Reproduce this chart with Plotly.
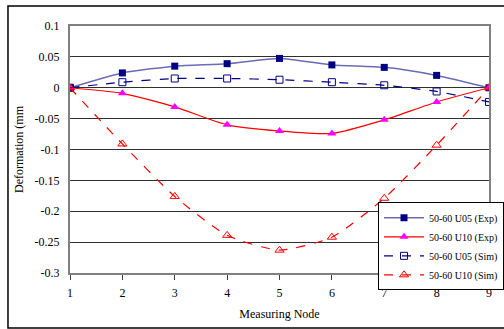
import plotly.graph_objects as go

nodes = [1, 2, 3, 4, 5, 6, 7, 8, 9]
u05_exp = [0, 0.024, 0.035, 0.039, 0.0475, 0.037, 0.033, 0.020, 0]
u10_exp = [0, -0.009, -0.031, -0.060, -0.070, -0.074, -0.052, -0.023, 0]
u05_sim = [0, 0.009, 0.015, 0.015, 0.013, 0.009, 0.004, -0.006, -0.023]
u10_sim = [0, -0.091, -0.176, -0.239, -0.263, -0.242, -0.179, -0.093, 0]
names = ["50-60 U05 (Exp)", "50-60 U10 (Exp)", "50-60 U05 (Sim)", "50-60 U10 (Sim)"]
y_ticks = [0.1, 0.05, 0, -0.05, -0.1, -0.15, -0.2, -0.25, -0.3]

FONT = "Times New Roman"

fig = go.Figure()
fig.add_trace(go.Scatter(x=nodes, y=u05_exp, name=names[0], mode="lines+markers",
                         line=dict(color="#6a6ab8", width=1.5, shape="spline", smoothing=0.6),
                         marker=dict(symbol="square", size=7, color="#000080")))
fig.add_trace(go.Scatter(x=nodes, y=u10_exp, name=names[1], mode="lines+markers",
                         line=dict(color="#ff0000", width=1.2, shape="spline", smoothing=0.6),
                         marker=dict(symbol="triangle-up", size=8, color="#ff00ff")))
fig.add_trace(go.Scatter(x=nodes, y=u05_sim, name=names[2], mode="lines+markers",
                         line=dict(color="#000080", width=1.2, dash="dash", shape="spline", smoothing=0.6),
                         marker=dict(symbol="square-open", size=7, color="#000080", line=dict(width=1))))
fig.add_trace(go.Scatter(x=nodes, y=u10_sim, name=names[3], mode="lines+markers",
                         line=dict(color="#ff0000", width=1.2, dash="dash", shape="spline", smoothing=0.6),
                         marker=dict(symbol="triangle-up-open", size=8, color="#ff0000", line=dict(width=1))))

fig.update_layout(
    width=504, height=329,
    margin=dict(l=70, r=15, t=26, b=56, autoexpand=False),
    paper_bgcolor="white", plot_bgcolor="white",
    font=dict(family=FONT, size=12, color="black"),
    showlegend=True,
    legend=dict(xref="container", yref="container", x=1.0, y=0.385, xanchor="right", yanchor="top",
                bgcolor="white", bordercolor="black", borderwidth=1,
                font=dict(family=FONT, size=10), tracegroupgap=0, itemwidth=40),
    xaxis=dict(range=[1, 9], tickvals=nodes, showgrid=False, zeroline=False, automargin=False,
               showline=True, linecolor="#808080", linewidth=1.5, mirror=True,
               ticks="outside", ticklen=5, tickcolor="#404040", ticklabelstandoff=3,
               title=dict(text="Measuring Node", font=dict(family=FONT, size=12), standoff=10)),
    yaxis=dict(range=[-0.3, 0.1], tickvals=y_ticks, ticktext=[str(v) for v in y_ticks],
               showgrid=True, gridcolor="#303030", gridwidth=1, zeroline=False, automargin=False,
               showline=True, linecolor="#808080", linewidth=2, mirror=True,
               ticks="", ticklabelstandoff=6,
               title=dict(text="Deformation (mm", font=dict(family=FONT, size=12), standoff=8)),
)
fig.add_shape(type="rect", xref="paper", yref="paper", x0=-0.148, x1=1.1, y0=-0.223, y1=1.081,
              line=dict(color="black", width=1.5), fillcolor="rgba(0,0,0,0)", layer="below")
fig.write_html("out.html")
